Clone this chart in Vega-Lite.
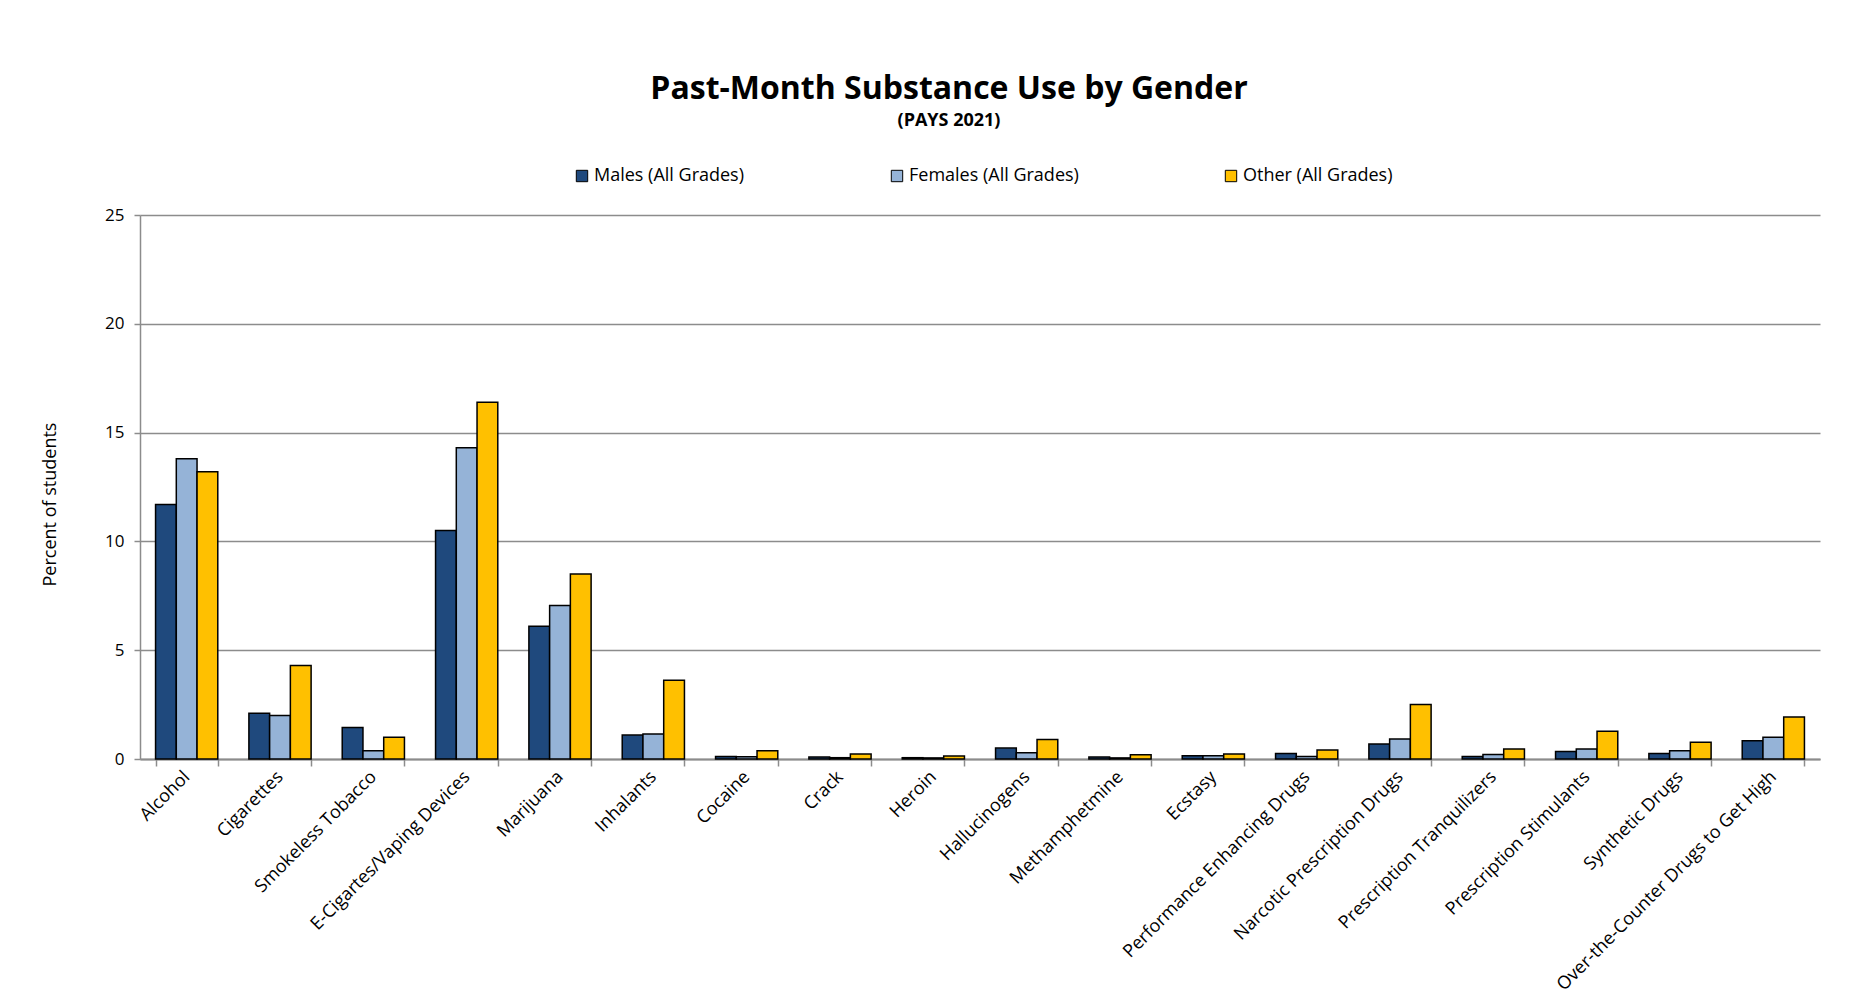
{
  "$schema": "https://vega.github.io/schema/vega-lite/v6.json",
  "autosize": "none",
  "width": 1680,
  "height": 544,
  "padding": {"left": 140, "top": 215, "right": 40, "bottom": 244},
  "background": "white",
  "title": {
    "text": "Past-Month Substance Use by Gender",
    "subtitle": "(PAYS 2021)",
    "anchor": "middle",
    "dx": -31,
    "fontSize": 32,
    "font": "Open Sans",
    "fontWeight": "bold",
    "color": "black",
    "subtitleFont": "Open Sans",
    "subtitleFontSize": 18,
    "subtitleFontWeight": "bold",
    "subtitleColor": "black",
    "subtitlePadding": 6,
    "offset": 36
  },
  "data": {
    "values": [
      {"substance": "Alcohol", "group": "Males (All Grades)", "pct": 11.7},
      {"substance": "Alcohol", "group": "Females (All Grades)", "pct": 13.8},
      {"substance": "Alcohol", "group": "Other (All Grades)", "pct": 13.2},
      {"substance": "Cigarettes", "group": "Males (All Grades)", "pct": 2.1},
      {"substance": "Cigarettes", "group": "Females (All Grades)", "pct": 2.0},
      {"substance": "Cigarettes", "group": "Other (All Grades)", "pct": 4.3},
      {"substance": "Smokeless Tobacco", "group": "Males (All Grades)", "pct": 1.45},
      {"substance": "Smokeless Tobacco", "group": "Females (All Grades)", "pct": 0.38},
      {"substance": "Smokeless Tobacco", "group": "Other (All Grades)", "pct": 1.0},
      {"substance": "E-Cigartes/Vaping Devices", "group": "Males (All Grades)", "pct": 10.5},
      {"substance": "E-Cigartes/Vaping Devices", "group": "Females (All Grades)", "pct": 14.3},
      {"substance": "E-Cigartes/Vaping Devices", "group": "Other (All Grades)", "pct": 16.4},
      {"substance": "Marijuana", "group": "Males (All Grades)", "pct": 6.1},
      {"substance": "Marijuana", "group": "Females (All Grades)", "pct": 7.05},
      {"substance": "Marijuana", "group": "Other (All Grades)", "pct": 8.5},
      {"substance": "Inhalants", "group": "Males (All Grades)", "pct": 1.1},
      {"substance": "Inhalants", "group": "Females (All Grades)", "pct": 1.15},
      {"substance": "Inhalants", "group": "Other (All Grades)", "pct": 3.62},
      {"substance": "Cocaine", "group": "Males (All Grades)", "pct": 0.12},
      {"substance": "Cocaine", "group": "Females (All Grades)", "pct": 0.1},
      {"substance": "Cocaine", "group": "Other (All Grades)", "pct": 0.38},
      {"substance": "Crack", "group": "Males (All Grades)", "pct": 0.09},
      {"substance": "Crack", "group": "Females (All Grades)", "pct": 0.06},
      {"substance": "Crack", "group": "Other (All Grades)", "pct": 0.23},
      {"substance": "Heroin", "group": "Males (All Grades)", "pct": 0.06},
      {"substance": "Heroin", "group": "Females (All Grades)", "pct": 0.05},
      {"substance": "Heroin", "group": "Other (All Grades)", "pct": 0.14},
      {"substance": "Hallucinogens", "group": "Males (All Grades)", "pct": 0.5},
      {"substance": "Hallucinogens", "group": "Females (All Grades)", "pct": 0.29},
      {"substance": "Hallucinogens", "group": "Other (All Grades)", "pct": 0.9},
      {"substance": "Methamphetmine", "group": "Males (All Grades)", "pct": 0.09},
      {"substance": "Methamphetmine", "group": "Females (All Grades)", "pct": 0.05},
      {"substance": "Methamphetmine", "group": "Other (All Grades)", "pct": 0.2},
      {"substance": "Ecstasy", "group": "Males (All Grades)", "pct": 0.15},
      {"substance": "Ecstasy", "group": "Females (All Grades)", "pct": 0.15},
      {"substance": "Ecstasy", "group": "Other (All Grades)", "pct": 0.23},
      {"substance": "Performance Enhancing Drugs", "group": "Males (All Grades)", "pct": 0.25},
      {"substance": "Performance Enhancing Drugs", "group": "Females (All Grades)", "pct": 0.12},
      {"substance": "Performance Enhancing Drugs", "group": "Other (All Grades)", "pct": 0.41},
      {"substance": "Narcotic Prescription Drugs", "group": "Males (All Grades)", "pct": 0.69},
      {"substance": "Narcotic Prescription Drugs", "group": "Females (All Grades)", "pct": 0.92},
      {"substance": "Narcotic Prescription Drugs", "group": "Other (All Grades)", "pct": 2.5},
      {"substance": "Prescription Tranquilizers", "group": "Males (All Grades)", "pct": 0.11},
      {"substance": "Prescription Tranquilizers", "group": "Females (All Grades)", "pct": 0.21},
      {"substance": "Prescription Tranquilizers", "group": "Other (All Grades)", "pct": 0.46},
      {"substance": "Prescription Stimulants", "group": "Males (All Grades)", "pct": 0.34},
      {"substance": "Prescription Stimulants", "group": "Females (All Grades)", "pct": 0.46},
      {"substance": "Prescription Stimulants", "group": "Other (All Grades)", "pct": 1.27},
      {"substance": "Synthetic Drugs", "group": "Males (All Grades)", "pct": 0.25},
      {"substance": "Synthetic Drugs", "group": "Females (All Grades)", "pct": 0.38},
      {"substance": "Synthetic Drugs", "group": "Other (All Grades)", "pct": 0.77},
      {"substance": "Over-the-Counter Drugs to Get High", "group": "Males (All Grades)", "pct": 0.84},
      {"substance": "Over-the-Counter Drugs to Get High", "group": "Females (All Grades)", "pct": 1.0},
      {"substance": "Over-the-Counter Drugs to Get High", "group": "Other (All Grades)", "pct": 1.93}
    ]
  },
  "mark": {"type": "bar", "stroke": "black", "strokeWidth": 1.5},
  "encoding": {
    "x": {
      "field": "substance",
      "type": "nominal",
      "sort": null,
      "scale": {"paddingInner": 0.3333, "paddingOuter": 0.1667},
      "axis": {
        "title": null,
        "labelAngle": -45,
        "labelAlign": "right",
        "labelBaseline": "middle",
        "labelFont": "Open Sans",
        "labelFontSize": 18,
        "labelColor": "black",
        "labelPadding": 8,
        "labelLimit": 400,
        "tickBand": "extent",
        "ticks": true,
        "tickSize": 7,
        "tickColor": "#8c8c8c",
        "tickWidth": 1.5,
        "domainColor": "#8c8c8c",
        "domainWidth": 2,
        "grid": false
      }
    },
    "xOffset": {
      "field": "group",
      "type": "nominal",
      "sort": ["Males (All Grades)", "Females (All Grades)", "Other (All Grades)"],
      "scale": {"paddingInner": 0, "paddingOuter": 0}
    },
    "y": {
      "field": "pct",
      "type": "quantitative",
      "scale": {"domain": [0, 25], "nice": false},
      "axis": {
        "title": "Percent of students",
        "titleFont": "Open Sans",
        "titleFontSize": 18,
        "titleFontWeight": "normal",
        "titleColor": "black",
        "titlePadding": 45,
        "titleY": 289,
        "values": [0, 5, 10, 15, 20, 25],
        "labelFont": "Open Sans",
        "labelFontSize": 17,
        "labelColor": "black",
        "labelPadding": 10,
        "tickSize": 6,
        "tickColor": "#8c8c8c",
        "tickWidth": 1.5,
        "domainColor": "#8c8c8c",
        "domainWidth": 1.5,
        "grid": true,
        "gridColor": "#8c8c8c",
        "gridWidth": 1.5
      }
    },
    "color": {
      "field": "group",
      "type": "nominal",
      "scale": {
        "domain": ["Males (All Grades)", "Females (All Grades)", "Other (All Grades)"],
        "range": ["#1F497D", "#95B3D7", "#FFC000"]
      },
      "legend": {
        "title": null,
        "orient": "none",
        "legendX": 433,
        "legendY": -48,
        "direction": "horizontal",
        "columnPadding": 143,
        "symbolType": "square",
        "symbolSize": 130,
        "symbolStrokeColor": "black",
        "symbolStrokeWidth": 1,
        "symbolOffset": 0,
        "labelOffset": 3,
        "labelLimit": 400,
        "labelFont": "Open Sans",
        "labelFontSize": 18,
        "labelColor": "black"
      }
    }
  },
  "config": {
    "view": {"stroke": null},
    "legend": {"symbolOpacity": 1}
  }
}
